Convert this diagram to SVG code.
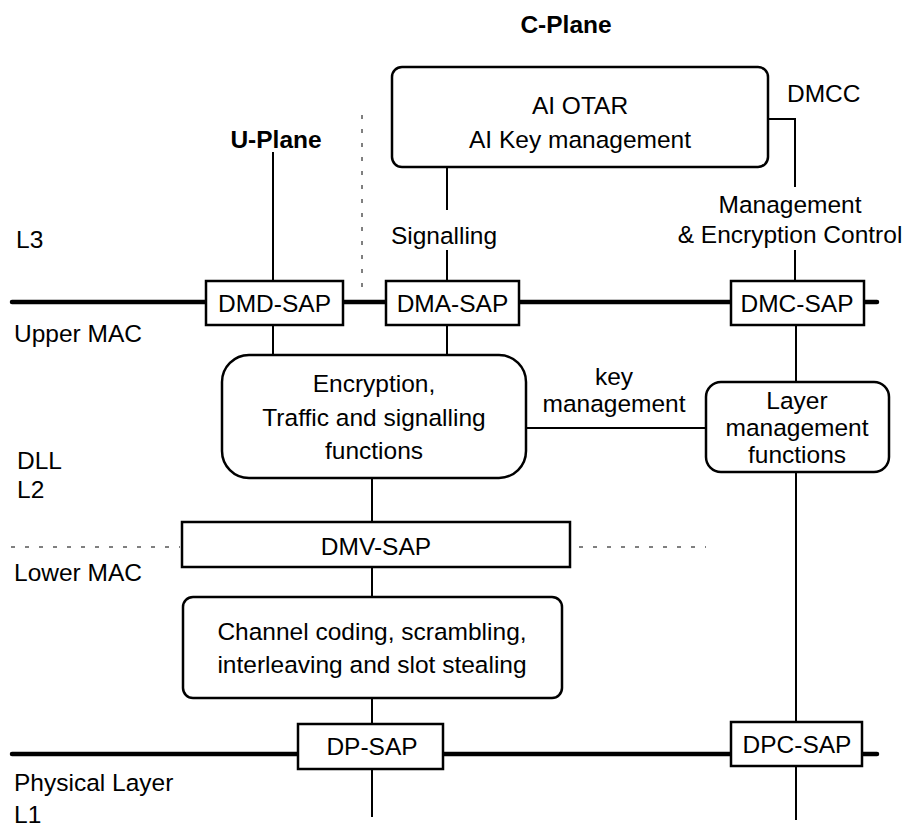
<svg xmlns="http://www.w3.org/2000/svg" width="908" height="827" viewBox="0 0 908 827">
<style>
text{font-family:"Liberation Sans",Arial,sans-serif;font-size:24.5px;fill:#000}
.c{text-anchor:middle}
.b{font-weight:bold}
.box{fill:#fff;stroke:#000;stroke-width:2.5}
.ln{stroke:#000;stroke-width:2;fill:none}
.bus{stroke:#000;stroke-width:4.5;stroke-linecap:round;fill:none}
.dash{stroke:#000;stroke-width:1;stroke-dasharray:4 10;fill:none}
</style>
<rect width="908" height="827" fill="#fff"/>
<g id="labels">
<text class="c b" x="566" y="33">C-Plane</text>
<text class="c b" x="276" y="148">U-Plane</text>
<text x="787" y="102">DMCC</text>
<text x="16" y="248">L3</text>
<text x="14" y="342">Upper MAC</text>
<text x="17" y="469">DLL</text>
<text x="17" y="498">L2</text>
<text x="14" y="581">Lower MAC</text>
<text x="14" y="791">Physical Layer</text>
<text x="14" y="823">L1</text>
</g>
<g id="connectors">
<line class="bus" x1="12" y1="302" x2="877" y2="302"/>
<line class="bus" x1="12" y1="754" x2="877" y2="754"/>
<line class="dash" x1="362" y1="115" x2="362" y2="287"/>
<line class="dash" x1="11" y1="547" x2="180" y2="547"/>
<line class="dash" x1="579" y1="547" x2="706" y2="547"/>
<path class="ln" d="M768,119 H795 V187"/>
<line class="ln" x1="795" y1="250" x2="795" y2="281"/>
<line class="ln" x1="447" y1="167" x2="447" y2="210"/>
<line class="ln" x1="447" y1="250" x2="447" y2="281"/>
<line class="ln" x1="273" y1="152" x2="273" y2="281"/>
<line class="ln" x1="273" y1="325" x2="273" y2="355"/>
<line class="ln" x1="447" y1="325" x2="447" y2="355"/>
<line class="ln" x1="526" y1="428" x2="706" y2="428"/>
<line class="ln" x1="796" y1="325" x2="796" y2="382"/>
<line class="ln" x1="796" y1="472" x2="796" y2="722"/>
<line class="ln" x1="796" y1="766" x2="796" y2="820"/>
<line class="ln" x1="372" y1="478" x2="372" y2="522"/>
<line class="ln" x1="372" y1="567" x2="372" y2="597"/>
<line class="ln" x1="372" y1="698" x2="372" y2="724"/>
<line class="ln" x1="372" y1="769" x2="372" y2="817"/>
<text class="c" x="444" y="244">Signalling</text>
<text class="c" x="790" y="213">Management</text>
<text class="c" x="790" y="243">&amp; Encryption Control</text>
<text class="c" x="614" y="385">key</text>
<text class="c" x="614" y="412">management</text>
</g>
<g id="otar">
<rect class="box" x="392" y="67" width="376" height="100" rx="10"/>
<text class="c" x="580" y="114">AI OTAR</text>
<text class="c" x="580" y="148">AI Key management</text>
</g>
<g id="dmd-sap">
<rect class="box" x="206" y="281" width="137" height="44"/>
<text class="c" x="274.5" y="312">DMD-SAP</text>
</g>
<g id="dma-sap">
<rect class="box" x="386" y="281" width="133" height="44"/>
<text class="c" x="452.5" y="312">DMA-SAP</text>
</g>
<g id="dmc-sap">
<rect class="box" x="731" y="281" width="133" height="44"/>
<text class="c" x="797" y="312">DMC-SAP</text>
</g>
<g id="encryption">
<rect class="box" x="222" y="355" width="304" height="123" rx="27"/>
<text class="c" x="374" y="392">Encryption,</text>
<text class="c" x="374" y="426">Traffic and signalling</text>
<text class="c" x="374" y="459">functions</text>
</g>
<g id="layer-mgmt">
<rect class="box" x="706" y="382" width="183" height="90" rx="15"/>
<text class="c" x="797" y="409">Layer</text>
<text class="c" x="797" y="436">management</text>
<text class="c" x="797" y="463">functions</text>
</g>
<g id="dmv-sap">
<rect class="box" x="182" y="522" width="388" height="45"/>
<text class="c" x="376" y="555">DMV-SAP</text>
</g>
<g id="channel">
<rect class="box" x="183" y="597" width="379" height="101" rx="10"/>
<text class="c" x="372" y="640">Channel coding, scrambling,</text>
<text class="c" x="372" y="673">interleaving and slot stealing</text>
</g>
<g id="dp-sap">
<rect class="box" x="298" y="724" width="145" height="45"/>
<text class="c" x="372" y="755">DP-SAP</text>
</g>
<g id="dpc-sap">
<rect class="box" x="731" y="722" width="131" height="44"/>
<text class="c" x="797" y="753">DPC-SAP</text>
</g>
</svg>
